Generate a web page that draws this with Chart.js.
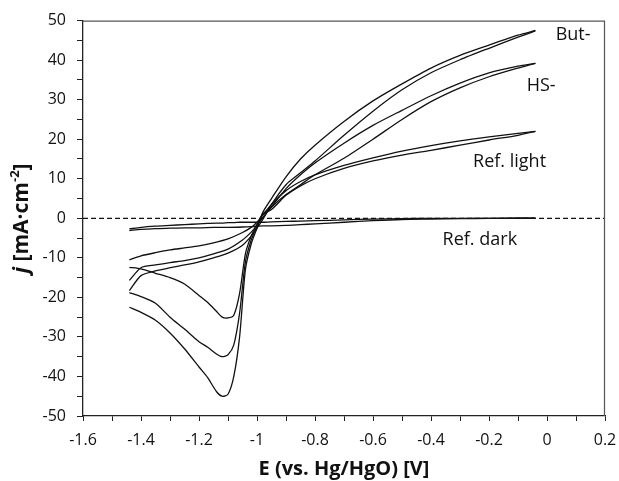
<!DOCTYPE html>
<html>
<head>
<meta charset="utf-8">
<script src="https://cdn.jsdelivr.net/npm/chart.js@4/dist/chart.umd.min.js"></script>
<style>
  html, body { margin: 0; padding: 0; background: #fff; }
  canvas { display: block; }
</style>
</head>
<body>
<canvas id="cv" width="619" height="481"></canvas>
<script>
// potential grids (V vs Hg/HgO), forward (anodic) and reverse (cathodic) sweeps
var xFwd = [-1.44, -1.40, -1.35, -1.30, -1.25, -1.20, -1.15, -1.10, -1.05, -1.02, -1.00, -0.98,
            -0.95, -0.90, -0.85, -0.80, -0.70, -0.60, -0.50, -0.40, -0.30, -0.20, -0.10, -0.04];
var xRev = [-0.04, -0.10, -0.20, -0.30, -0.40, -0.50, -0.60, -0.70, -0.80, -0.85, -0.90, -0.95,
            -0.98, -1.00, -1.02, -1.04, -1.06, -1.08, -1.10, -1.12, -1.14, -1.17, -1.20, -1.25,
            -1.30, -1.35, -1.40, -1.44];

// current density j (mA/cm2)
var darkFwd  = [-3.1, -2.8, -2.6, -2.5, -2.4, -2.4, -2.3, -2.3, -2.2, -2.1, -2.0, -1.9,
                -1.9, -1.8, -1.6, -1.4, -1.0, -0.6, -0.3, -0.2, -0.1, 0, 0, 0];
var darkRev  = [0.1, 0.1, 0, 0, 0, -0.1, -0.2, -0.4, -0.6, -0.7, -0.8, -0.9,
                -1.0, -1.0, -1.0, -1.0, -1.0, -1.1, -1.1, -1.2, -1.2, -1.3, -1.4, -1.6,
                -1.8, -2.0, -2.3, -2.7];
var lightFwd = [-10.5, -9.5, -8.7, -8.0, -7.5, -7.0, -6.2, -5.2, -3.6, -2.3, -1.0, 0.8,
                3.5, 7.0, 9.3, 11.0, 13.4, 15.3, 17.0, 18.4, 19.6, 20.6, 21.5, 22.0];
var lightRev = [22.0, 21.0, 19.8, 18.5, 17.2, 16.0, 14.5, 12.6, 10.0, 8.2, 5.8, 2.2,
                1.0, -1.5, -4.5, -9.0, -19.0, -24.5, -25.2, -25.0, -23.5, -21.3, -19.5, -16.6,
                -15.0, -13.9, -12.8, -12.4];
var hsFwd    = [-15.7, -12.5, -11.8, -11.2, -10.7, -10.0, -9.0, -7.8, -5.5, -3.5, -1.8, 0.2,
                2.8, 6.0, 8.5, 11.0, 15.2, 20.0, 25.0, 29.5, 33.0, 35.8, 38.0, 39.2];
var hsRev    = [39.2, 38.5, 36.8, 34.2, 31.0, 27.3, 23.5, 19.0, 14.0, 11.0, 7.5, 3.0,
                1.0, -2.0, -5.5, -11.0, -24.0, -32.0, -34.5, -35.0, -34.3, -32.6, -31.2, -28.0,
                -25.0, -21.5, -19.8, -18.8];
var butFwd   = [-18.3, -14.5, -13.3, -12.5, -11.8, -11.0, -10.0, -8.8, -6.8, -4.5, -2.5, -0.3,
                3.5, 8.5, 11.5, 14.5, 21.0, 27.1, 32.5, 36.8, 40.1, 43.0, 45.8, 47.4];
var butRev   = [47.5, 46.3, 43.8, 41.2, 38.0, 34.0, 29.7, 24.5, 18.5, 15.0, 10.5, 5.0,
                1.5, -2.5, -6.5, -13.0, -30.0, -40.0, -44.5, -45.0, -43.8, -40.3, -37.6, -33.0,
                -29.0, -25.8, -23.8, -22.5];

var curveNames = ["But-", "HS-", "Ref. light", "Ref. dark"];
var namePos = [[0.03, 46.5], [-0.07, 33.6], [-0.255, 14.2], [-0.36, -5.4]];

function branch(xs, ys) {
    return xs.map(function (x, i) { return { x: x, y: ys[i] }; });
}

function curve(xs, ys) {
    return {
        data: branch(xs, ys),
        showLine: true,
        pointRadius: 0,
        borderColor: "#111",
        borderWidth: 1.3,
        tension: 0.25,
        fill: false
    };
}

var datasets = [
    {
        data: [{ x: -1.6, y: 0 }, { x: 0.2, y: 0 }],
        showLine: true, pointRadius: 0, borderColor: "#111",
        borderWidth: 1.2, borderDash: [5, 3], tension: 0
    },
    curve(xFwd, darkFwd), curve(xRev, darkRev),
    curve(xFwd, lightFwd), curve(xRev, lightRev),
    curve(xFwd, hsFwd), curve(xRev, hsRev),
    curve(xFwd, butFwd), curve(xRev, butRev)
];

var FONT = '"Open Sans", "Liberation Sans", sans-serif';

var extras = {
    id: "extras",
    afterDraw: function (chart) {
        var ctx = chart.ctx, a = chart.chartArea;
        var xs = chart.scales.x, ys = chart.scales.y;
        ctx.save();
        // box top / right
        ctx.strokeStyle = "#555";
        ctx.lineWidth = 1.2;
        ctx.beginPath();
        ctx.moveTo(a.left, a.top + 0.5);
        ctx.lineTo(a.right - 0.5, a.top + 0.5);
        ctx.lineTo(a.right - 0.5, a.bottom);
        ctx.stroke();

        // curve names
        ctx.fillStyle = "#111";
        ctx.font = "18px " + FONT;
        ctx.textAlign = "left";
        ctx.textBaseline = "middle";
        curveNames.forEach(function (t, i) {
            ctx.fillText(t, xs.getPixelForValue(namePos[i][0]), ys.getPixelForValue(namePos[i][1]));
        });

        // x title
        ctx.font = "bold 20px " + FONT;
        ctx.textAlign = "center";
        ctx.fillText("E (vs. Hg/HgO) [V]", (a.left + a.right) / 2, 469);

        // y title, rotated, with italic j and superscript
        var parts = [
            { t: "j", f: "italic bold 21px " + FONT, dy: 0 },
            { t: " [mA\u00b7cm", f: "bold 21px " + FONT, dy: 0 },
            { t: "-2", f: "bold 13px " + FONT, dy: -7 },
            { t: "]", f: "bold 21px " + FONT, dy: 0 }
        ];
        var total = 0;
        parts.forEach(function (p) { ctx.font = p.f; p.w = ctx.measureText(p.t).width; total += p.w; });
        ctx.translate(22, (a.top + a.bottom) / 2);
        ctx.rotate(-Math.PI / 2);
        ctx.textAlign = "left";
        var px = -total / 2;
        parts.forEach(function (p) {
            ctx.font = p.f;
            ctx.fillText(p.t, px, p.dy);
            px += p.w;
        });
        ctx.restore();
    }
};

new Chart(document.getElementById("cv"), {
    type: "scatter",
    data: { datasets: datasets },
    plugins: [extras],
    options: {
        responsive: false,
        animation: false,
        devicePixelRatio: 1,
        layout: { padding: { top: 19, right: 0, left: 0, bottom: 0 } },
        plugins: { legend: { display: false }, tooltip: { enabled: false } },
        scales: {
            x: {
                type: "linear",
                min: -1.6,
                max: 0.2,
                afterFit: function (s) { s.height = 65; s.paddingRight = 14; },
                grid: { drawOnChartArea: false, drawTicks: true, tickLength: 5, color: "#222" },
                border: { color: "#222", width: 1.3 },
                ticks: {
                    stepSize: 0.1,
                    autoSkip: false,
                    maxRotation: 0,
                    padding: 10,
                    color: "#111",
                    font: { family: FONT, size: 16 },
                    callback: function (v) {
                        var k = Math.round(v * 10);
                        return Math.abs(k) % 2 === 0 ? String(k / 10) : "";
                    }
                }
            },
            y: {
                min: -50,
                max: 50,
                afterFit: function (s) { s.width = 83; },
                grid: { drawOnChartArea: false, drawTicks: true, tickLength: 6, color: "#222" },
                border: { color: "#222", width: 1.3 },
                ticks: {
                    stepSize: 5,
                    autoSkip: false,
                    padding: 11,
                    color: "#111",
                    font: { family: FONT, size: 16 },
                    callback: function (v) { return v % 10 === 0 ? v : ""; }
                }
            }
        }
    }
});
</script>
</body>
</html>
